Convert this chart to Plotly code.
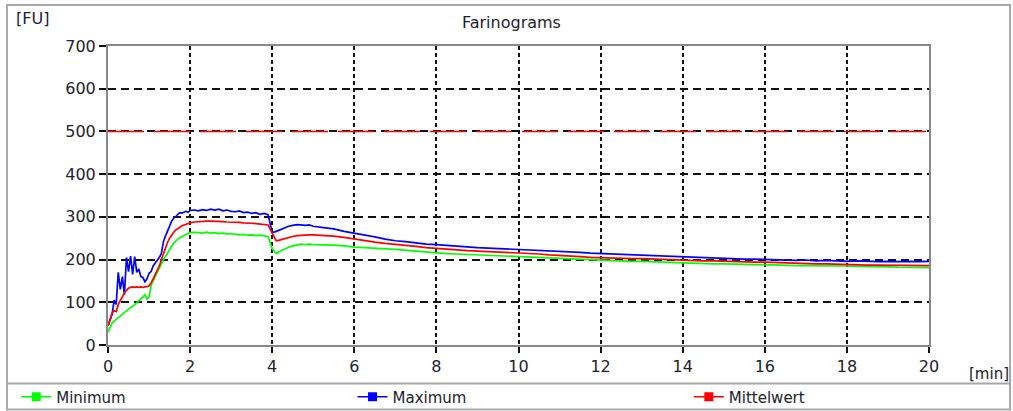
import numpy as np
import plotly.graph_objects as go

# ---- sample times [min] ----
time_min = np.concatenate([
    np.round(np.arange(0, 2.0001, 0.05), 2),   # 41 samples
    np.round(np.arange(2.1, 5.0001, 0.1), 2),  # 30 samples
    np.round(np.arange(5.25, 20.0001, 0.25), 2)  # 60 samples
])

# ---- series values [FU] ----
maximum = [
    45, 60, 72, 105, 95, 170, 130, 160, 118, 205, 172, 208, 165, 207, 170, 178, 160, 158, 148, 155,
    168, 172, 185, 192, 198, 205, 214, 242, 255, 268, 278, 290, 297, 300, 306, 310, 309, 312, 313, 311, 315,
    316, 314, 317, 315, 318, 316, 318, 314, 316, 313, 312, 314, 310, 311, 308, 310, 306, 308, 305, 263,
    266, 270, 275, 278, 280, 282, 281, 280, 281, 278,
    275, 272, 266, 262, 258, 253, 248, 244, 242, 239, 236, 235, 233, 231, 229, 228, 227, 226, 225, 224,
    222, 221, 220, 219, 218, 217, 215, 214, 214, 212, 211, 210, 210, 208, 208, 207, 206, 204, 203, 203,
    202, 201, 201, 200, 200, 199, 198, 199, 197, 198, 197, 196, 197, 196, 195, 196, 195, 196, 195, 196,
]
mittelwert = [
    45, 62, 75, 80, 78, 95, 105, 115, 122, 128, 133, 135, 136, 135, 136, 135, 136, 135, 136, 137,
    138, 145, 155, 165, 175, 185, 200, 215, 228, 240, 250, 258, 264, 269, 273, 276, 279, 281, 283, 284, 286,
    288, 289, 290, 290, 290, 290, 289, 289, 288, 288, 287, 287, 286, 286, 285, 284, 283, 282, 281, 262,
    244, 246, 249, 252, 254, 256, 257, 258, 258, 258,
    257, 255, 252, 248, 245, 241, 238, 236, 233, 231, 228, 226, 225, 223, 221, 220, 219, 218, 217, 216,
    214, 213, 211, 210, 208, 207, 205, 204, 204, 203, 202, 202, 201, 200, 200, 199, 198, 197, 197, 196,
    196, 195, 194, 194, 193, 192, 192, 191, 190, 190, 189, 188, 188, 187, 187, 187, 186, 186, 186, 186,
]
minimum = [
    30, 42, 52, 56, 60, 66, 70, 72, 78, 82, 84, 88, 90, 94, 98, 104, 106, 112, 118, 108,
    112, 140, 150, 160, 172, 180, 190, 200, 207, 216, 224, 231, 238, 244, 248, 251, 254, 257, 259, 261, 263,
    264, 263, 262, 264, 262, 263, 261, 262, 260, 261, 259, 258, 259, 257, 258, 256, 257, 255, 254, 225,
    214, 220, 225, 229, 232, 234, 236, 235, 236, 235,
    235, 234, 232, 229, 228, 226, 225, 224, 222, 220, 217, 216, 214, 213, 212, 210, 209, 208, 207, 207,
    205, 204, 203, 202, 201, 200, 199, 198, 198, 197, 196, 196, 195, 194, 193, 192, 192, 191, 190, 190,
    189, 189, 188, 188, 187, 187, 186, 186, 186, 185, 185, 185, 184, 184, 183, 183, 182, 182, 181, 181,
]
reference_level = 500
x_range = [0, 20]
y_range = [0, 700]
x_ticks = [0, 2, 4, 6, 8, 10, 12, 14, 16, 18, 20]
y_ticks = [0, 100, 200, 300, 400, 500, 600, 700]
series_names = ["Minimum", "Maximum", "Mittelwert"]
series_colors = ["#00ff00", "#0000ff", "#ff0000"]
legend_ids = ["legend", "legend2", "legend3"]
legend_x = [0.016, 0.348, 0.680]

FONT = "DejaVu Sans"
TXT = "#22222e"

fig = go.Figure()
for name, vals, col in zip(series_names, [minimum, maximum, mittelwert], series_colors):
    fig.add_trace(go.Scatter(x=time_min, y=vals, mode="lines", name=name,
                             line=dict(color=col, width=1.7), showlegend=False))

fig.add_trace(go.Scatter(x=x_range, y=[reference_level, reference_level], mode="lines",
                         line=dict(color="#ff0000", width=1.5, dash="36px,10px"),
                         showlegend=False, hoverinfo="skip"))

# legend entries (line + square marker), each in its own legend box
for name, col, lid in zip(series_names, series_colors, legend_ids):
    fig.add_trace(go.Scatter(x=[None], y=[None], mode="lines+markers", name=name,
                             line=dict(color=col, width=1.6), legend=lid,
                             marker=dict(symbol="square", size=9, color=col)))

legend_common = dict(orientation="h", xref="container", yref="container",
                     y=0.034, xanchor="left", yanchor="middle",
                     bgcolor="rgba(0,0,0,0)", font=dict(family=FONT, size=15, color=TXT),
                     itemclick=False, itemdoubleclick=False)

fig.update_layout(
    width=1013, height=411,
    margin=dict(l=108, r=84, t=46, b=66, autoexpand=False),
    paper_bgcolor="white", plot_bgcolor="white",
    font=dict(family=FONT, size=15, color=TXT),
    showlegend=True,
    legend=dict(x=legend_x[0], **legend_common),
    legend2=dict(x=legend_x[1], **legend_common),
    legend3=dict(x=legend_x[2], **legend_common),
    xaxis=dict(range=x_range, tickvals=x_ticks, showgrid=True, gridcolor="#111",
               griddash="4px,3px", gridwidth=2, zeroline=False,
               showline=True, linecolor="#888", linewidth=2, mirror=True,
               ticks="outside", ticklen=6, tickwidth=2, tickcolor="#111",
               tickfont=dict(family=FONT, size=16, color=TXT)),
    yaxis=dict(range=y_range, tickvals=y_ticks, showgrid=True, gridcolor="#111",
               griddash="8px,5px", gridwidth=1.5, zeroline=False,
               showline=True, linecolor="#888", linewidth=2, mirror=True,
               ticks="outside", ticklen=7, tickwidth=1.5, tickcolor="#111",
               tickfont=dict(family=FONT, size=16, color=TXT)),
)

# titles / units
fig.add_annotation(text="Farinograms", xref="paper", yref="paper", x=0.491, y=1.080,
                   showarrow=False, xanchor="center", yanchor="middle",
                   font=dict(family=FONT, size=16, color=TXT))
fig.add_annotation(text="[FU]", xref="paper", yref="paper", x=-0.1145, y=1.0936,
                   showarrow=False, xanchor="left", yanchor="middle",
                   font=dict(family=FONT, size=16, color=TXT))
fig.add_annotation(text="[min]", xref="paper", yref="paper", x=1.0999, y=-0.097,
                   showarrow=False, xanchor="right", yanchor="middle",
                   font=dict(family=FONT, size=15, color=TXT))

# outer frame and legend separator
fig.add_shape(type="rect", xref="paper", yref="paper", x0=-0.123, x1=1.0987,
              y0=-0.2157, y1=1.137, line=dict(color="#a8a8a8", width=2), layer="below")
fig.add_shape(type="line", xref="paper", yref="paper", x0=-0.123, x1=1.0987,
              y0=-0.1288, y1=-0.1288, line=dict(color="#a8a8a8", width=2), layer="below")

fig.write_html("out.html")
